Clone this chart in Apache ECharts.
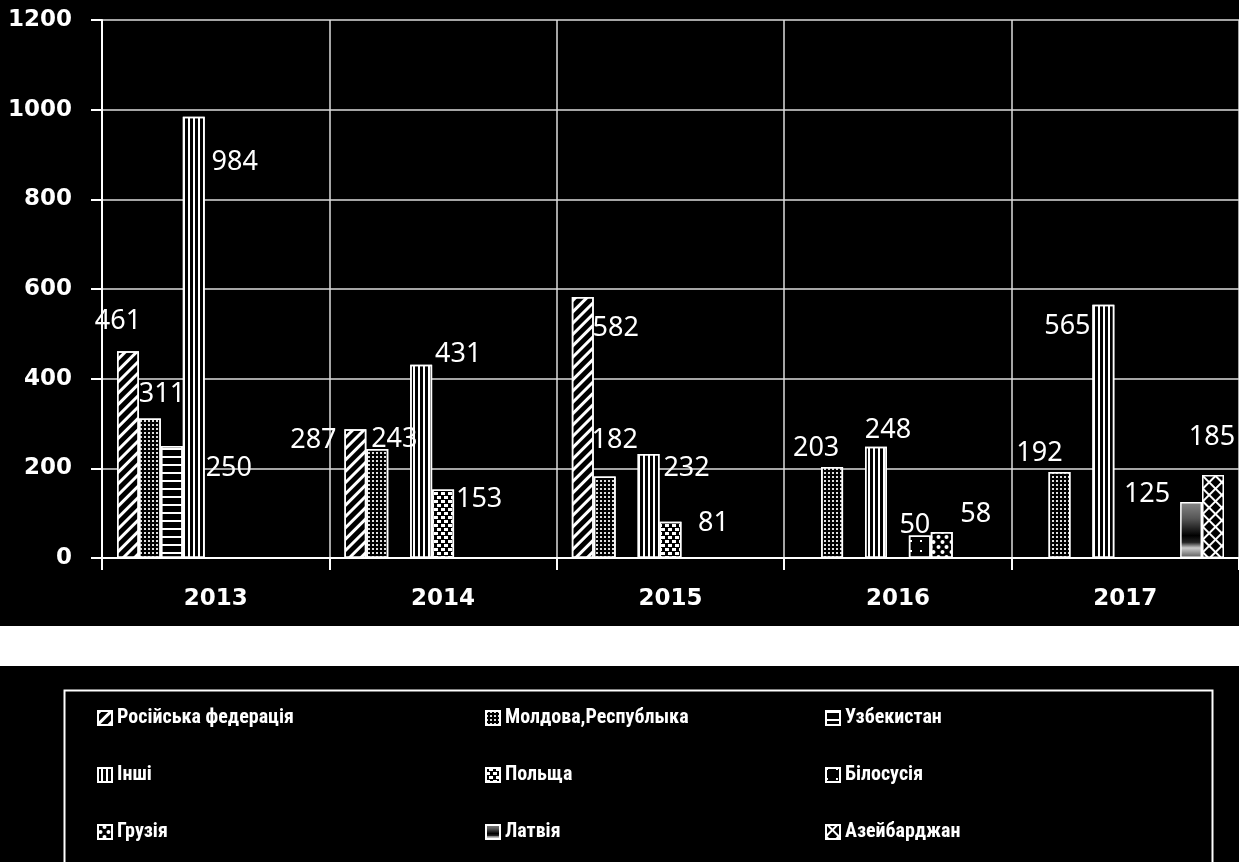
<!DOCTYPE html>
<html>
<head>
<meta charset="utf-8">
<script src="https://cdn.jsdelivr.net/npm/echarts@6/dist/echarts.min.js"></script>
<style>
html,body{margin:0;padding:0;background:#000;}
#chart{width:1239px;height:862px;}
</style>
</head>
<body>
<div id="chart"></div>
<script>
// ---- data ----
const categories = ['2013', '2014', '2015', '2016', '2017'];
const seriesNames = ['Російська федерація', 'Молдова,Республыка', 'Узбекистан', 'Інші', 'Польща', 'Білосусія', 'Грузія', 'Латвія', 'Азейбарджан'];
const russia     = [461, 287, 582, null, null];
const moldova    = [311, 243, 182, 203, 192];
const uzbekistan = [250, null, null, null, null];
const others     = [984, 431, 232, 248, 565];
const poland     = [null, 153, 81, null, null];
const belarus    = [null, null, null, 50, null];
const georgia    = [null, null, null, 58, null];
const latvia     = [null, null, null, null, 125];
const azerbaijan = [null, null, null, null, 185];
const yTicks = [0, 200, 400, 600, 800, 1000, 1200];

// ---- styling (not data) ----
const seriesValues = [russia, moldova, uzbekistan, others, poland, belarus, georgia, latvia, azerbaijan];
const labelOffsets = [
  [[-10, -30], [-42, 11], [33, 31], null, null],
  [[12, -24], [17, -10], [10, -36], [-16, -19], [-20, -19]],
  [[57, 22], null, null, null, null],
  [[41, 45], [37, -10], [38, 14], [12, -17], [-36, 22]],
  [null, [36, 10], [43, 2], null, null],
  [null, null, null, [-5, -10], null],
  [null, null, null, [34, -18], null],
  [null, null, null, null, [-44, -8]],
  [null, null, null, null, [-1, -38]]
];
const styles = [
  { color: '#000', decal: { symbol: 'rect', color: '#fff', dashArrayX: [1, 0], dashArrayY: [3, 5], rotation: -Math.PI / 4 } },
  { color: '#000', decal: { symbol: 'rect', color: '#ddd', dashArrayX: [1.5, 1.5], dashArrayY: [1.5, 1.5], symbolSize: 1 } },
  { color: '#000', decal: { symbol: 'rect', color: '#fff', dashArrayX: [1, 0], dashArrayY: [2, 6] } },
  { color: '#000', decal: { symbol: 'rect', color: '#fff', dashArrayX: [1, 0], dashArrayY: [1.6, 3], rotation: Math.PI / 2 } },
  { color: '#000', decal: { symbol: 'rect', color: '#fff', dashArrayX: [[4, 3], [0, 3, 4, 0]], dashArrayY: [3, 1], symbolSize: 1 } },
  { color: '#000', decal: { symbol: 'rect', color: '#fff', dashArrayX: [2, 8], dashArrayY: [2, 8], symbolSize: 1 } },
  { color: '#000', decal: { symbol: 'circle', color: '#fff', dashArrayX: [[5, 3], [0, 4, 5, 0]], dashArrayY: [4, 1], symbolSize: 1 } },
  { color: { type: 'linear', x: 0, y: 0, x2: 0, y2: 1, colorStops: [
      { offset: 0, color: '#888' }, { offset: 0.3, color: '#555' }, { offset: 0.6, color: '#000' },
      { offset: 0.72, color: '#222' }, { offset: 0.82, color: '#ccc' }, { offset: 1, color: '#555' }] } },
  { color: '#fff', decal: { symbol: 'rect', color: '#000', dashArrayX: [7, 1.5], dashArrayY: [7, 1.5], symbolSize: 1, rotation: Math.PI / 4 } }
];

const series = seriesNames.map((name, i) => ({
  name: name,
  type: 'bar',
  barGap: 0,
  barCategoryGap: '13.2%',
  itemStyle: Object.assign({ borderColor: '#fff', borderWidth: 1.5 }, styles[i]),
  data: seriesValues[i].map((v, j) => {
    if (v === null) return null;
    const off = labelOffsets[i][j] || [0, -20];
    return {
      value: v,
      label: { show: true, position: ['50%', 0], align: 'center', verticalAlign: 'middle', offset: off }
    };
  }),
  label: { color: '#fff', fontSize: 27, fontFamily: 'Noto Sans', fontWeight: 'normal' }
}));

const legendText = { color: '#fff', fontSize: 20, fontWeight: 'bold', fontFamily: '"Liberation Sans Narrow", "Roboto Condensed", "Liberation Sans", sans-serif' };
function legendCol(left, names) {
  return {
    orient: 'vertical', left: left, top: 703, itemGap: 37, itemWidth: 14, itemHeight: 14,
    icon: 'rect', data: names, textStyle: legendText, selectedMode: false
  };
}

const chart = echarts.init(document.getElementById('chart'), null, { renderer: 'canvas' });
chart.setOption({
  backgroundColor: '#000',
  animation: false,
  grid: { left: 102, top: 20, width: 1140, height: 538, containLabel: false },
  xAxis: {
    type: 'category',
    data: categories,
    axisLine: { lineStyle: { color: '#fff', width: 2 } },
    axisTick: { show: true, length: 12, lineStyle: { color: '#fff', width: 2 } },
    splitLine: { show: true, lineStyle: { color: '#ddd', width: 1.5 } },
    axisLabel: { color: '#fff', fontSize: 23, fontWeight: 'bold', fontFamily: 'DejaVu Sans', margin: 30 }
  },
  yAxis: {
    type: 'value',
    min: yTicks[0], max: yTicks[yTicks.length - 1], interval: 200,
    axisLine: { show: true, lineStyle: { color: '#fff', width: 2 } },
    axisTick: { show: true, length: 11, lineStyle: { color: '#fff', width: 2 } },
    splitLine: { show: true, lineStyle: { color: '#ddd', width: 1.5 } },
    axisLabel: { color: '#fff', fontSize: 23, fontWeight: 'bold', fontFamily: 'DejaVu Sans', margin: 30, formatter: v => String(v) }
  },
  legend: [
    legendCol(92, [seriesNames[0], seriesNames[3], seriesNames[6]]),
    legendCol(480, [seriesNames[1], seriesNames[4], seriesNames[7]]),
    legendCol(820, [seriesNames[2], seriesNames[5], seriesNames[8]])
  ],
  graphic: [
    { type: 'rect', left: 0, top: 626, shape: { width: 1239, height: 40 }, style: { fill: '#fff' }, silent: true },
    { type: 'rect', left: 62, top: 688, shape: { width: 1148, height: 200 }, style: { fill: 'none', stroke: '#fff', lineWidth: 2 }, silent: true }
  ],
  series: series
});
</script>
</body>
</html>
